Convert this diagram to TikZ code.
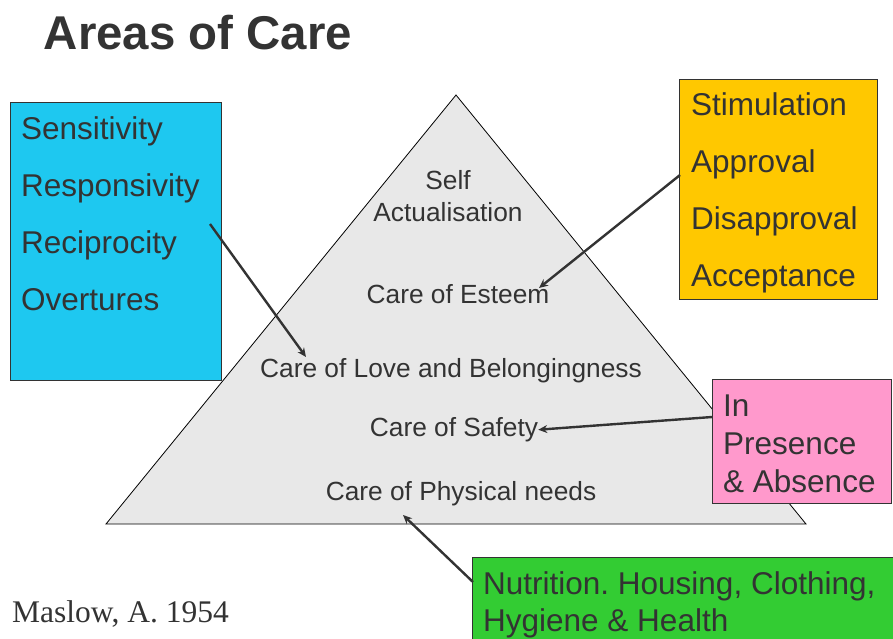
\documentclass[tikz,border=0pt]{standalone}
\usepackage{fontspec}
\setmainfont{Liberation Sans}
\newfontfamily\refserif{Liberation Serif}
\usetikzlibrary{arrows.meta, positioning, calc}
\frenchspacing

\definecolor{inkgray}{RGB}{51,51,51}
\definecolor{pyramidgray}{RGB}{232,232,232}
\definecolor{boxblue}{RGB}{30,200,240}
\definecolor{boxyellow}{RGB}{255,200,0}
\definecolor{boxpink}{RGB}{255,153,204}
\definecolor{boxgreen}{RGB}{51,204,51}

\begin{document}
\begin{tikzpicture}[x=1pt, y=-1pt,
  every node/.style={inner sep=0pt, text=inkgray},
  level/.style={font=\fontsize{26.3}{31.6}\selectfont, align=center},
  boxtext/.style={font=\fontsize{31.5}{57.3}\selectfont, align=left, anchor=north west},
  careboxes/.style={draw=inkgray, line width=1.2pt, anchor=north west},
  pointer/.style={draw=inkgray, line width=2.4pt, -{Stealth[length=9pt,width=8pt]}}]
\useasboundingbox (0,0) rectangle (893,638);
\clip (0,0) rectangle (893,638);
% Title
\node (title) at (198,33) {\fontsize{47.4}{56}\selectfont\bfseries Areas of Care};
% Pyramid
\draw[fill=pyramidgray, line width=0.8pt] (456,95) -- (806,524) -- (106,524) -- cycle;
% Levels
\node[level, anchor=north] (self) at (448,170.5) {Self\\Actualisation};
\node[level, anchor=base] (esteem) at (458,303.5) {Care of Esteem};
\node[level, anchor=base] (love) at (451,377.5) {Care of Love and Belongingness};
\node[level, anchor=base] (safety) at (454,436.5) {Care of Safety};
\node[level, anchor=base] (physical) at (461,500.5) {Care of Physical needs};
% Boxes
\node[careboxes, fill=boxblue, minimum width=211pt, minimum height=278pt] (blue) at (10,102) {};
\node[boxtext] (bluetext) at (21,116) {Sensitivity\\Responsivity\\Reciprocity\\Overtures};
\node[careboxes, fill=boxyellow, minimum width=198pt, minimum height=220pt] (yellow) at (679,79) {};
\node[boxtext] (yellowtext) at (691,92) {Stimulation\\Approval\\Disapproval\\Acceptance};
\node[careboxes, fill=boxpink, minimum width=179pt, minimum height=124pt] (pink) at (712,379) {};
\node[boxtext, font=\fontsize{31.5}{37.8}\selectfont] (pinktext) at (723,395) {In\\Presence\\\& Absence};
\node[careboxes, fill=boxgreen, minimum width=440pt, minimum height=100pt] (green) at (472,557) {};
\node[boxtext, font=\fontsize{31.5}{37.8}\selectfont] (greentext) at (483,571) {Nutrition. Housing, Clothing,\\Hygiene \& Health};
% Reference
\node[anchor=base west] (maslow) at (12,622) {\refserif\fontsize{31.5}{38}\selectfont Maslow, A. 1954};
% Pointers
\coordinate (bluetail) at (210,224);
\coordinate (lovetip) at (306,357);
\coordinate (yellowtail) at (680,175);
\coordinate (esteemtip) at (539,288);
\coordinate (pinktail) at (712,417);
\coordinate (greentail) at (473,582);
\coordinate (physicaltip) at (403,515);
\draw[pointer] (bluetail) -- (lovetip);
\draw[pointer] (yellowtail) -- (esteemtip);
\draw[pointer] (pinktail) -- (safety.east);
\draw[pointer] (greentail) -- (physicaltip);
\end{tikzpicture}
\end{document}
